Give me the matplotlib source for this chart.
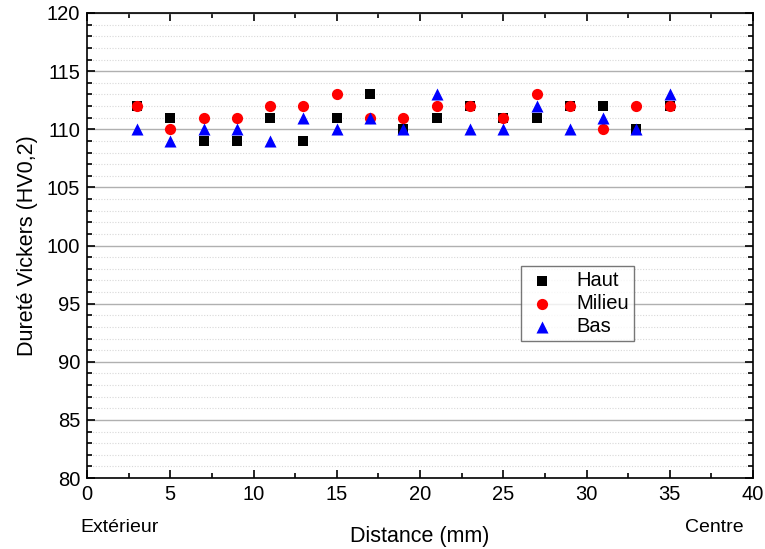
import matplotlib
matplotlib.use("Agg")
import matplotlib.pyplot as plt
from matplotlib.ticker import MultipleLocator

distance = [3, 5, 7, 9, 11, 13, 15, 17, 19, 21, 23, 25, 27, 29, 31, 33, 35]
haut   = [112, 111, 109, 109, 111, 109, 111, 113, 110, 111, 112, 111, 111, 112, 112, 110, 112]
milieu = [112, 110, 111, 111, 112, 112, 113, 111, 111, 112, 112, 111, 113, 112, 110, 112, 112]
bas    = [110, 109, 110, 110, 109, 111, 110, 111, 110, 113, 110, 110, 112, 110, 111, 110, 113]

plt.rcParams['font.family'] = ['Liberation Sans', 'DejaVu Sans']

fig = plt.figure(figsize=(7.65, 5.49), dpi=100)
ax = fig.add_axes([87/765, 1-478/549, (753-87)/765, (478-13)/549])

ax.scatter(distance, haut, marker='s', s=55, color='black', label='Haut', zorder=3, linewidths=0)
ax.scatter(distance, milieu, marker='o', s=65, color='red', label='Milieu', zorder=4, linewidths=0)
ax.scatter(distance, bas, marker='^', s=75, color='blue', label='Bas', zorder=5, linewidths=0)

ax.set_xlim(0, 40)
ax.set_ylim(80, 120)
ax.xaxis.set_major_locator(MultipleLocator(5))
ax.xaxis.set_minor_locator(MultipleLocator(2.5))
ax.yaxis.set_major_locator(MultipleLocator(5))
ax.yaxis.set_minor_locator(MultipleLocator(1))

ax.grid(which='major', axis='y', color='#b0b0b0', linewidth=1.0, zorder=0)
ax.grid(which='minor', axis='y', color='#d8d8d8', linewidth=0.8, linestyle=(0, (1, 1.5)), zorder=0)
ax.set_axisbelow(True)

ax.tick_params(which='both', direction='in', top=True, right=True, labelsize=14.5, width=1.2)
ax.tick_params(which='major', length=6, pad=5)
ax.tick_params(which='minor', length=3.5)
for sp in ax.spines.values():
    sp.set_linewidth(1.2)

ax.set_ylabel('Dureté Vickers (HV0,2)', fontsize=15.5, labelpad=6)
ax.set_xlabel('Distance (mm)', fontsize=15.5, labelpad=16)
fig.text(120/765, 1-527/549, 'Extérieur', fontsize=14, ha='center', va='center')
fig.text(714/765, 1-527/549, 'Centre', fontsize=14, ha='center', va='center')

leg = ax.legend(loc='upper left', bbox_to_anchor=((521-87)/666, (478-266)/465),
                fontsize=14.5, frameon=True, fancybox=False, edgecolor='#555555',
                handletextpad=0.9, borderpad=0.25, labelspacing=0.2, handlelength=1.6,
                borderaxespad=0)
leg.get_frame().set_linewidth(1.0)

fig.savefig('out.png', dpi=100)
